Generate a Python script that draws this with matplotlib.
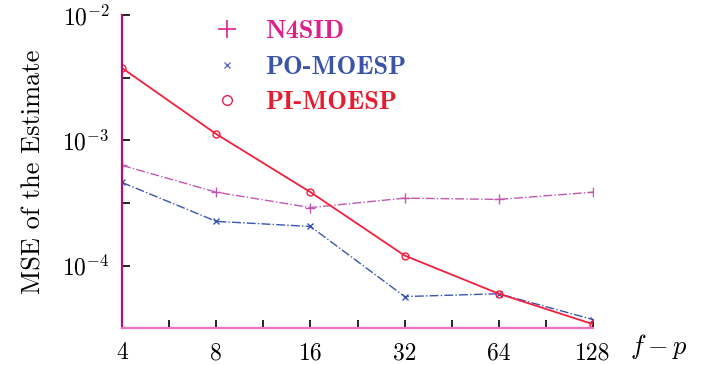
import numpy as np
import matplotlib.pyplot as plt
from matplotlib.lines import Line2D
from matplotlib.ticker import FixedLocator, NullFormatter

plt.rcParams['mathtext.fontset'] = 'cm'
plt.rcParams['font.family'] = 'serif'
plt.rcParams['font.serif'] = ['cmr10', 'DejaVu Serif']
plt.rcParams['axes.formatter.use_mathtext'] = True

# f - p values on the x axis
fp = [4, 8, 16, 32, 64, 128]

# MSE
n4sid = [6.3e-4, 3.85e-4, 2.9e-4, 3.45e-4, 3.37e-4, 3.85e-4]
po_moesp = [4.6e-4, 2.25e-4, 2.05e-4, 5.65e-5, 5.95e-5, 3.7e-5]
pi_moesp = [3.77e-3, 1.12e-3, 3.85e-4, 1.2e-4, 5.95e-5, 3.4e-5]

fig = plt.figure(figsize=(7.18, 3.65), dpi=100)
ax = fig.add_axes([0.170, 0.101, 0.656, 0.858])

ax.plot(fp, n4sid, color='#c058b0', ls='-.', lw=1.0, marker='+', ms=7, mew=1.0)
ax.plot(fp, po_moesp, color='#3a55b0', ls='-.', lw=1.0, marker='x', ms=5, mew=1.0)
ax.plot(fp, pi_moesp, color='#f0203c', ls='-', lw=1.3, marker='o', ms=5,
        mfc='none', mew=1.0)

ax.set_xscale('log', base=2)
ax.set_yscale('log')
ax.set_xlim(4, 128)
ax.set_ylim(10 ** -4.5, 1e-2)

ax.xaxis.set_major_locator(FixedLocator(fp))
ax.set_xticklabels([str(v) for v in fp])
ax.xaxis.set_minor_locator(FixedLocator([v * np.sqrt(2) for v in fp[:-1]]))
ax.xaxis.set_minor_formatter(NullFormatter())
ax.yaxis.set_major_locator(FixedLocator([1e-4, 1e-3, 1e-2]))
ax.set_yticklabels(['$10^{-4}$', '$10^{-3}$', '$10^{-2}$'])
ax.yaxis.set_minor_locator(FixedLocator([10 ** -4.5, 10 ** -3.5, 10 ** -2.5]))
ax.yaxis.set_minor_formatter(NullFormatter())

ax.tick_params(which='both', direction='in', length=6, width=1.2, colors='black',
               labelsize=17, pad=9)
ax.tick_params(axis='x', pad=10)

for s in ['top', 'right']:
    ax.spines[s].set_visible(False)
ax.spines['left'].set_color('#b01070')
ax.spines['left'].set_linewidth(1.6)
ax.spines['bottom'].set_color('#f070c0')
ax.spines['bottom'].set_linewidth(1.6)

ax.set_ylabel('MSE of the Estimate', fontsize=19, labelpad=12)
fig.text(0.918, 0.01, '$f-p$', fontsize=19, ha='center', va='bottom')

handles = [
    Line2D([], [], ls='none', marker='+', ms=13, mew=1.2, color='#e0208a'),
    Line2D([], [], ls='none', marker='x', ms=5, mew=1.0, color='#6070c0'),
    Line2D([], [], ls='none', marker='o', ms=7, mfc='none', mew=1.0, color='#e82050'),
]
labels = ['N4SID', 'PO-MOESP', 'PI-MOESP']
leg = ax.legend(handles, labels, loc='upper left', bbox_to_anchor=(0.13, 1.06),
                frameon=False, handletextpad=0.7, labelspacing=0.45,
                handlelength=1.5, prop={'family': 'cmb10', 'size': 19})
for t, c in zip(leg.get_texts(), ['#e0208a', '#3a55a8', '#e81c30']):
    t.set_color(c)

fig.savefig('out.png')
